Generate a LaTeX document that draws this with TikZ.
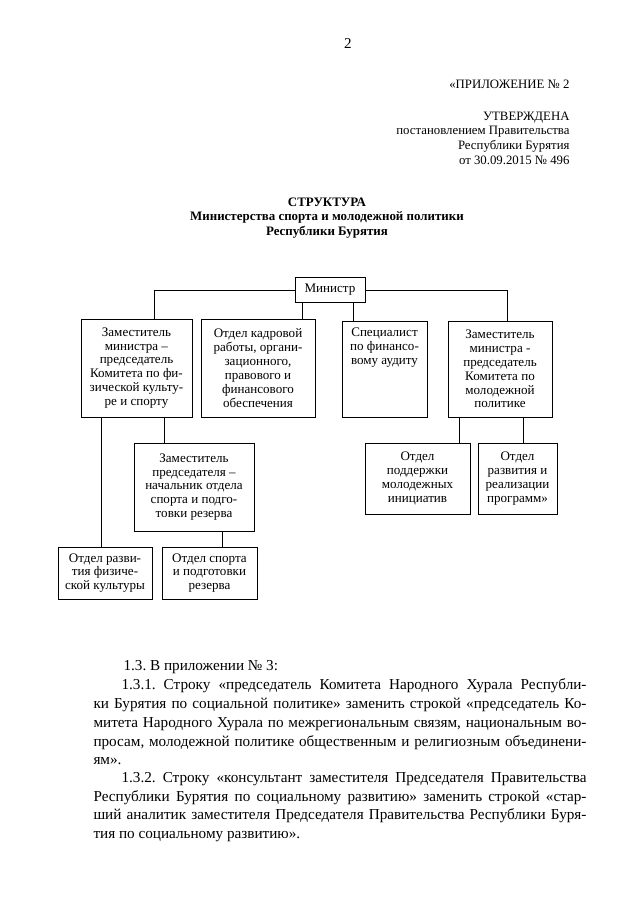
\documentclass[tikz,border=0pt]{standalone}
\usepackage{fontspec}
\setmainfont{Liberation Serif}
\frenchspacing
\tikzset{every picture/.style={line width=0.75pt}}
\tikzset{
  orgbox/.style={draw, line width=0.75pt, inner sep=2pt, align=center, font=\fontsize{9.8}{10.4}\selectfont},
  link/.style={line width=0.6pt},
  bodytext/.style={anchor=base west, inner sep=0pt, font=\fontsize{11.4}{13.9}\selectfont},
  headtext/.style={anchor=base east, inner sep=0pt, font=\fontsize{9.6}{11}\selectfont},
  titletext/.style={anchor=base, inner sep=0pt, font=\bfseries\fontsize{9.7}{11}\selectfont},
}

\begin{document}
\begin{tikzpicture}[x=0.75pt,y=0.75pt,yscale=-1,xscale=1]
	\fill[white] (0,0) rectangle (640,905);
	\useasboundingbox (0,0) rectangle (640,905);

	% Text Node
	\node[anchor=base, inner sep=0pt, font=\fontsize{11.3}{13.9}\selectfont] (pnum) at (348,49) {2};
	% Text Node
	\node[headtext] (h1) at (570,89) {«ПРИЛОЖЕНИЕ № 2};
	\node[headtext] (h2) at (570,121) {УТВЕРЖДЕНА};
	\node[headtext] (h3) at (570,135) {постановлением Правительства};
	\node[headtext] (h4) at (570,150) {Республики Бурятия};
	\node[headtext] (h5) at (570,165) {от 30.09.2015 № 496};
	% Text Node
	\node[titletext] (t1) at (327,207) {СТРУКТУРА};
	\node[titletext] (t2) at (327,221) {Министерства спорта и молодежной политики};
	\node[titletext] (t3) at (327,236) {Республики Бурятия};

	%Shape: Rectangle
	\node[orgbox, minimum width=52.5pt, minimum height=18pt] (min) at (330,290) {Министр};
	%Shape: Rectangle
	\node[orgbox, minimum width=83.25pt, minimum height=73.5pt] (zam1) at (136.5,368) {Заместитель\\ министра –\\ председатель\\ Комитета по фи-\\ зической культу-\\ ре и спорту};
	%Shape: Rectangle
	\node[orgbox, minimum width=85.5pt, minimum height=73.5pt] (otdk) at (258,368) {Отдел кадровой\\ работы, органи-\\ зационного,\\ правового и\\ финансового\\ обеспечения};
	%Shape: Rectangle
	\node[orgbox, minimum width=63.75pt, minimum height=72pt] (spec) at (384.5,369) {Специалист\\ по финансо-\\ вому аудиту\\ \strut\\ \strut\\ \strut};
	%Shape: Rectangle
	\node[orgbox, minimum width=78pt, minimum height=72pt] (zam2) at (500,369) {Заместитель\\ министра -\\ председатель\\ Комитета по\\ молодежной\\ политике};
	%Shape: Rectangle
	\node[orgbox, minimum width=90pt, minimum height=66pt] (zpred) at (194,487) {Заместитель\\ председателя –\\ начальник отдела\\ спорта и подго-\\ товки резерва};
	%Shape: Rectangle
	\node[orgbox, minimum width=70.5pt, minimum height=39pt] (otdfk) at (105,573) {Отдел разви-\\ тия физиче-\\ ской культуры};
	%Shape: Rectangle
	\node[orgbox, minimum width=71.25pt, minimum height=39pt] (otdsp) at (209.5,573) {Отдел спорта\\ и подготовки\\ резерва};
	%Shape: Rectangle
	\node[orgbox, minimum width=78.75pt, minimum height=53.25pt] (otdmi) at (417.5,478.5) {Отдел\\ поддержки\\ молодежных\\ инициатив};
	%Shape: Rectangle
	\node[orgbox, minimum width=59.25pt, minimum height=53.25pt] (otdrp) at (517.5,478.5) {Отдел\\ развития и\\ реализации\\ программ»};

	%Straight Lines
	\coordinate (mL) at ([shift={(-28,0)}]min.south);
	\coordinate (mR) at ([shift={(23,0)}]min.south);
	\draw[link] (min.west) -| ([shift={(17.5,0)}]zam1.north);
	\draw[link] (min.east) -| ([shift={(7,0)}]zam2.north);
	\draw[link] (mL) -- (mL |- otdk.north);
	\draw[link] (mR) -- (mR |- spec.north);
	%Straight Lines
	\coordinate (z1a) at ([shift={(-35.5,0)}]zam1.south);
	\coordinate (z1b) at ([shift={(27.5,0)}]zam1.south);
	\coordinate (zp) at ([shift={(28,0)}]zpred.south);
	\draw[link] (z1a) -- (z1a |- otdfk.north);
	\draw[link] (z1b) -- (z1b |- zpred.north);
	\draw[link] (zp) -- (zp |- otdsp.north);
	%Straight Lines
	\coordinate (z2a) at ([shift={(-41,0)}]zam2.south);
	\coordinate (z2b) at ([shift={(23,0)}]zam2.south);
	\draw[link] (z2a) -- (z2a |- otdmi.north);
	\draw[link] (z2b) -- (z2b |- otdrp.north);

	% Text Node
	\node[bodytext] (p1) at (123,670) {1.3. В приложении № 3:};
	\node[bodytext] (p2) at (121,689) {\makebox[348.75pt][s]{1.3.1. Строку «председатель Комитета Народного Хурала Республи-}};
	\node[bodytext] (p3) at (93,708) {\makebox[369.75pt][s]{ки Бурятия по социальной политике» заменить строкой «председатель Ко-}};
	\node[bodytext] (p4) at (93,727) {\makebox[369.75pt][s]{митета Народного Хурала по межрегиональным связям, национальным во-}};
	\node[bodytext] (p5) at (93,746) {\makebox[369.75pt][s]{просам, молодежной политике общественным и религиозным объединени-}};
	\node[bodytext] (p6) at (93,764) {ям».};
	% Text Node
	\node[bodytext] (p7) at (121,782) {\makebox[348.75pt][s]{1.3.2. Строку «консультант заместителя Председателя Правительства}};
	\node[bodytext] (p8) at (93,801) {\makebox[369.75pt][s]{Республики Бурятия по социальному развитию» заменить строкой «стар-}};
	\node[bodytext] (p9) at (93,819) {\makebox[369.75pt][s]{ший аналитик заместителя Председателя Правительства Республики Буря-}};
	\node[bodytext] (p10) at (93,838) {тия по социальному развитию».};

\end{tikzpicture}
\end{document}
